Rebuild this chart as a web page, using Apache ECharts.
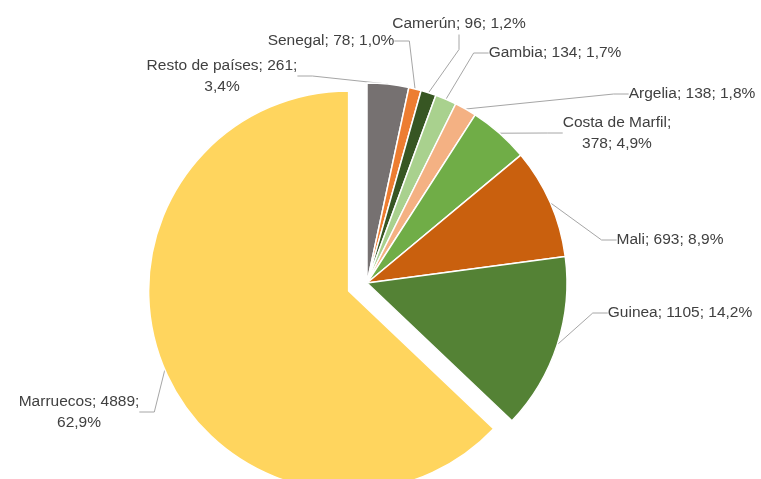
<!DOCTYPE html>
<html>
<head>
<meta charset="utf-8">
<script src="https://cdn.jsdelivr.net/npm/echarts@6/dist/echarts.min.js"></script>
<style>
html,body{margin:0;padding:0;background:#fff;}
#c{width:761px;height:479px;}
</style>
</head>
<body>
<div id="c"></div>
<script>
const categories = ["Resto de países", "Senegal", "Camerún", "Gambia", "Argelia", "Costa de Marfil", "Mali", "Guinea", "Marruecos"];
const values = [261, 78, 96, 134, 138, 378, 693, 1105, 4889];
const percents = ["3,4%", "1,0%", "1,2%", "1,7%", "1,8%", "4,9%", "8,9%", "14,2%", "62,9%"];
const colors = ["#767171", "#ED7D31", "#375623", "#A9D18E", "#F4B183", "#70AD47", "#C9600E", "#548235", "#FFD55E"];
const exploded = "Marruecos";
// label text line breaks: 0 none, 1 after name, 2 after value
const labelBreak = [2, 0, 0, 0, 0, 1, 0, 0, 2];
// label centers (layout only)
const labelPos = [[222, 76], [331, 41], [459, 24], [555, 53], [692, 94], [617, 133], [670, 240], [680, 313], [79, 412]];

const CX = 367, CY = 283, R = 200, OFFSET = 20;
const total = values.reduce((a, b) => a + b, 0);
const exIdx = categories.indexOf(exploded);
let before = 0;
for (let i = 0; i < exIdx; i++) before += values[i];
const midAngle = (before + values[exIdx] / 2) / total * 2 * Math.PI; // clockwise from top
const exCenter = [CX + OFFSET * Math.sin(midAngle), CY - OFFSET * Math.cos(midAngle)];

function fmt(p) {
  const i = p.dataIndex;
  const b = labelBreak[i];
  if (b === 1) return p.name + ';\n' + p.value + '; ' + percents[i];
  if (b === 2) return p.name + '; ' + p.value + ';\n' + percents[i];
  return p.name + '; ' + p.value + '; ' + percents[i];
}
const labelBase = {
  show: true, position: 'outside', fontFamily: 'Liberation Sans', fontSize: 15.5,
  color: '#404040', lineHeight: 21, formatter: fmt
};
const lineBase = {show: true, length: 15, length2: 15, lineStyle: {color: '#a6a6a6', width: 1}};
function layout(p) {
  const pos = labelPos[p.dataIndex];
  return {x: pos[0], y: pos[1], align: 'center', verticalAlign: 'middle'};
}
const hidden = {itemStyle: {color: 'rgba(0,0,0,0)', borderWidth: 0}, label: {show: false}, labelLine: {show: false}};

const dataMain = categories.map((n, i) => i === exIdx
  ? Object.assign({name: n, value: values[i]}, hidden)
  : {name: n, value: values[i], itemStyle: {color: colors[i]}});
const dataEx = categories.map((n, i) => i === exIdx
  ? {name: n, value: values[i], itemStyle: {color: colors[i]}}
  : Object.assign({name: n, value: values[i]}, hidden));

const chart = echarts.init(document.getElementById('c'), null, {renderer: 'canvas'});
const common = {
  type: 'pie', radius: [0, R], startAngle: 90, clockwise: true,
  itemStyle: {borderColor: '#ffffff', borderWidth: 1.5},
  label: labelBase, labelLine: lineBase, labelLayout: layout,
  avoidLabelOverlap: false, emphasis: {disabled: true}, selectedMode: false
};
chart.setOption({
  animation: false,
  backgroundColor: '#ffffff',
  series: [
    Object.assign({}, common, {center: [CX, CY], data: dataMain}),
    Object.assign({}, common, {center: exCenter, data: dataEx})
  ]
});
</script>
</body>
</html>
